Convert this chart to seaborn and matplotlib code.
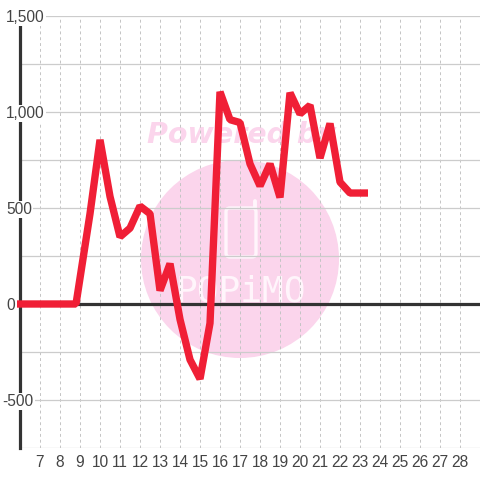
import matplotlib
matplotlib.use("Agg")
import matplotlib.pyplot as plt
from matplotlib.patches import Circle, FancyBboxPatch
import pandas as pd
import seaborn as sns

days = [5.85, 8.8, 9.5, 10, 10.5, 11, 11.5, 12, 12.5, 13, 13.5, 14, 14.5, 15, 15.5,
        16, 16.5, 17, 17.5, 18, 18.5, 19, 19.5, 20, 20.5, 21, 21.5, 22, 22.5, 23, 23.4]
values = [0, 0, 470, 855, 560, 350, 395, 510, 470, 70, 210, -80, -290, -390, -100,
          1105, 960, 945, 730, 615, 730, 555, 1100, 990, 1035, 760, 940, 635, 578, 578, 578]
y_ticks = [-500, 0, 500, 1000, 1500]
y_labels = ["-500", "0", "500", "1,000", "1,500"]
x_ticks = list(range(7, 29))

sns.set_style("white")
plt.rcParams["font.family"] = ["Liberation Sans", "DejaVu Sans"]

df = pd.DataFrame({"day": days, "value": values})

fig = plt.figure(figsize=(4.8, 4.8), dpi=100, facecolor="white")
ax = fig.add_axes([20 / 480, 32 / 480, 460 / 480, 432 / 480])

# pink watermark behind the grid
pink = "#fbd5ec"
bg = fig.add_axes([0, 0, 1, 1], zorder=-1)
bg.set_xlim(0, 480)
bg.set_ylim(480, 0)
bg.axis("off")
bg.add_patch(Circle((240, 259), 99, color=pink, lw=0))
bg.text(241, 135, "Powered by", color=pink, fontsize=20.5, fontweight="bold", fontstyle="italic",
        ha="center", va="center", family="DejaVu Sans")
bg.add_patch(FancyBboxPatch((226, 208), 30, 49, boxstyle="round,pad=0,rounding_size=4",
                            fc="none", ec="#fff5fb", lw=2.4))
bg.plot([255, 255], [201, 208], color="#fff5fb", lw=2.8)
bg.text(241, 291, "POPiMO", color="#fff5fb", fontsize=26, ha="center", va="center",
        family="DejaVu Sans Mono")

ax.patch.set_alpha(0)
ax.set_xlim(6, 29)
ax.set_ylim(-750, 1500)

# grid
ax.set_yticks([-750, -250, 250, 750, 1250], minor=True)
ax.grid(True, which="major", axis="y", color="#cccccc", lw=0.9)
ax.grid(True, which="minor", axis="y", color="#cccccc", lw=0.9)
ax.grid(True, which="major", axis="x", color="#c4c4c4", lw=0.7, ls=(0, (3, 3)))
ax.set_axisbelow(True)
ax.axhline(0, color="#333333", lw=2.3, zorder=2)

sns.lineplot(data=df, x="day", y="value", color="#f01f36", lw=5.3, ax=ax, zorder=3, clip_on=False,
             solid_joinstyle="bevel", solid_capstyle="butt", errorbar=None, estimator=None)

ax.set_xlabel("")
ax.set_ylabel("")
ax.set_xticks(x_ticks)
ax.set_xticklabels([str(d) for d in x_ticks], fontsize=11.2, color="#444444")
ax.set_yticks(y_ticks)
ax.set_yticklabels([])
ax.tick_params(axis="both", which="both", length=0)
ax.tick_params(axis="x", pad=5)

for s in ["top", "right", "bottom"]:
    ax.spines[s].set_visible(False)
ax.spines["left"].set_color("#333333")
ax.spines["left"].set_linewidth(2.3)
ax.spines["left"].set_bounds(-750, 1460)

for v, lab in zip(y_ticks, y_labels):
    offset = -18 if lab.startswith("-") else -14
    ax.annotate(lab, (6, v), xytext=(offset, -1.5), textcoords="offset pixels", ha="left", va="center",
                fontsize=11.2, color="#444444", zorder=5, annotation_clip=False,
                bbox=dict(fc="white", ec="none", pad=1))

fig.savefig("out.png", dpi=100)
